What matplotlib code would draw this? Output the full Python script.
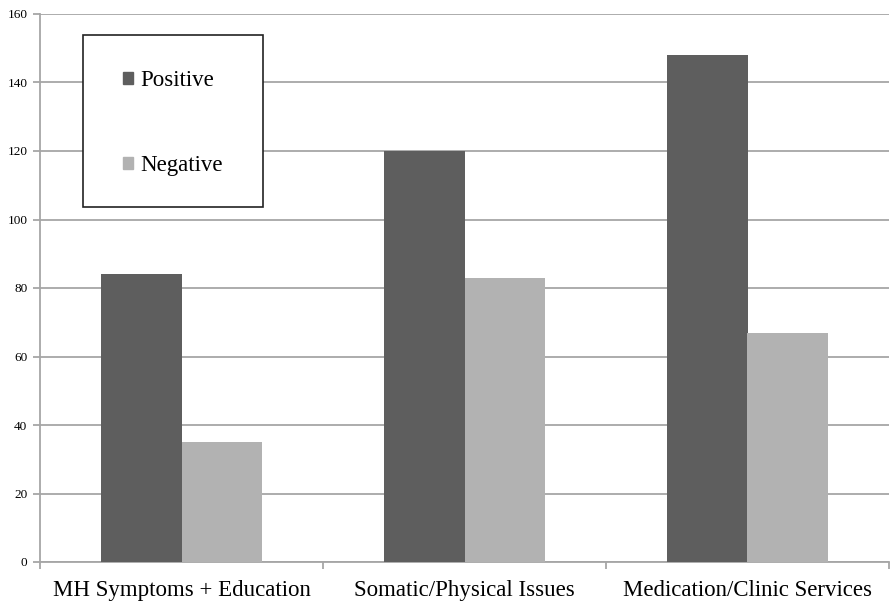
import numpy as np
from matplotlib import pyplot as plt
from matplotlib.patches import Patch, Rectangle

# данные с картинки
categories = ["MH Symptoms + Education", "Somatic/Physical Issues", "Medication/Clinic Services"]
positive = [84, 120, 148]
negative = [35, 83, 67]
y_ticks = [0, 20, 40, 60, 80, 100, 120, 140, 160]

dark = "#5e5e5e"
light = "#b2b2b2"
grid_col = "#a6a6a6"


def main():
    plt.rcParams["font.family"] = ["Liberation Serif", "DejaVu Serif"]
    W, H = 892, 604
    fig = plt.figure(figsize=(W / 100, H / 100), dpi=100)
    ax = fig.add_axes([40 / W, 42 / H, 849 / W, 548 / H])

    x = np.arange(len(categories))
    width = 0.286
    ax.bar(x - width / 2, positive, width, color=dark, zorder=3)
    ax.bar(x + width / 2, negative, width, color=light, zorder=3)

    ax.set_xlim(-0.5, len(categories) - 0.5)
    ax.set_ylim(0, 160)
    ax.set_yticks(y_ticks)
    ax.set_yticklabels([str(v) for v in y_ticks], fontsize=9.5)
    ax.yaxis.grid(True, color=grid_col, linewidth=1.3, zorder=0)

    # подписи категорий по центру, засечки на границах
    ax.set_xticks(x)
    ax.set_xticklabels(categories, fontsize=16.5)
    ax.tick_params(axis="x", length=0, pad=13)
    ax.set_xticks(np.arange(len(categories) + 1) - 0.5, minor=True)
    ax.tick_params(axis="x", which="minor", length=5, color=grid_col, width=1.3)
    ax.tick_params(axis="y", length=5, color=grid_col, width=1.3, pad=4)

    for side in ["top", "right"]:
        ax.spines[side].set_visible(False)
    for side in ["left", "bottom"]:
        ax.spines[side].set_color(grid_col)
        ax.spines[side].set_linewidth(1.3)

    # рамка легенды рисуется отдельно
    box = Rectangle((83 / W, 1 - 207 / H), 180 / W, 172 / H,
                    transform=fig.transFigure, facecolor="white",
                    edgecolor="#222222", linewidth=1.2, zorder=4)
    ax.add_patch(box)

    handles = [Patch(color=dark), Patch(color=light)]
    leg = ax.legend(handles, ["Positive", "Negative"], fontsize=16.5,
                    loc="upper left", bbox_to_anchor=(123 / W, 1 - 70 / H),
                    bbox_transform=fig.transFigure,
                    frameon=False, borderpad=0,
                    labelspacing=2.8, handlelength=0.45, handleheight=0.45,
                    handletextpad=0.3, borderaxespad=0)
    leg.set_zorder(5)

    fig.savefig("out.png", dpi=100)


if __name__ == "__main__":
    main()
